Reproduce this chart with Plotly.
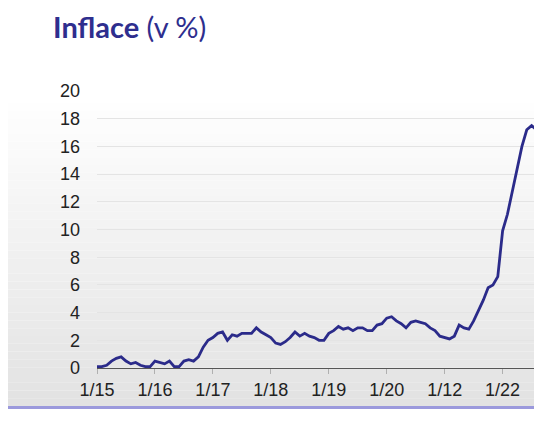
import plotly.graph_objects as go

# Monthly CPI y/y, Jan 2015 - Aug 2022
inflation = [
    0.1, 0.1, 0.2, 0.5, 0.7, 0.8, 0.5, 0.3, 0.4, 0.2, 0.1, 0.1,   # 2015
    0.5, 0.4, 0.3, 0.5, 0.1, 0.1, 0.5, 0.6, 0.5, 0.8, 1.5, 2.0,   # 2016
    2.2, 2.5, 2.6, 2.0, 2.4, 2.3, 2.5, 2.5, 2.5, 2.9, 2.6, 2.4,   # 2017
    2.2, 1.8, 1.7, 1.9, 2.2, 2.6, 2.3, 2.5, 2.3, 2.2, 2.0, 2.0,   # 2018
    2.5, 2.7, 3.0, 2.8, 2.9, 2.7, 2.9, 2.9, 2.7, 2.7, 3.1, 3.2,   # 2019
    3.6, 3.7, 3.4, 3.2, 2.9, 3.3, 3.4, 3.3, 3.2, 2.9, 2.7, 2.3,   # 2020
    2.2, 2.1, 2.3, 3.1, 2.9, 2.8, 3.4, 4.1, 4.9, 5.8, 6.0, 6.6,   # 2021
    9.9, 11.1, 12.7, 14.2, 16.0, 17.2, 17.5, 17.2,                # 2022
]
months = list(range(len(inflation)))
tick_positions = [0, 12, 24, 36, 48, 60, 72, 84]
tick_labels = ["1/15", "1/16", "1/17", "1/18", "1/19", "1/20", "1/12", "1/22"]
y_ticks = list(range(0, 21, 2))

W, H = 534, 424
L, R, T, B = 97, 0, 91, 56
plot_w = W - L - R
plot_h = H - T - B

def px_x(p):
    return (p - L) / plot_w

def px_y(p):
    return (H - B - p) / plot_h

fig = go.Figure()
fig.add_trace(go.Scatter(
    x=months, y=inflation, mode="lines",
    line=dict(color="#2b2b8a", width=2.8),
    hoverinfo="skip",
))

# gradient background panel
shapes = []
top_px, bot_px = 95, 406
n = 40
for i in range(n):
    y0 = top_px + (bot_px - top_px) * i / n
    y1 = top_px + (bot_px - top_px) * (i + 1) / n
    t = (i + 0.5) / n
    c = int(round(255 - (255 - 226) * t))
    shapes.append(dict(
        type="rect", xref="paper", yref="paper", layer="below",
        x0=px_x(8), x1=px_x(W + 2), y0=px_y(y1), y1=px_y(y0),
        fillcolor=f"rgb({c},{c},{c})", line=dict(width=0),
    ))
shapes.append(dict(
    type="rect", xref="paper", yref="paper", layer="below",
    x0=px_x(8), x1=px_x(W + 2), y0=px_y(409), y1=px_y(406),
    fillcolor="#9b99dc", line=dict(width=0),
))

fig.update_layout(
    width=W, height=H,
    margin=dict(l=L, r=R, t=T, b=B),
    paper_bgcolor="white",
    plot_bgcolor="rgba(0,0,0,0)",
    showlegend=False,
    shapes=shapes,
    title=dict(
        text="<b>Inflace</b> (v %)",
        font=dict(family="Lato, Open Sans, sans-serif", size=29, color="#2e2e8e"),
        xref="container", yref="container",
        x=53 / W, xanchor="left",
        y=1 - 28 / H, yanchor="middle",
    ),
    xaxis=dict(
        range=[0, 90.5],
        tickmode="array", tickvals=tick_positions, ticktext=tick_labels,
        showgrid=False, zeroline=False,
        showline=False,
        ticks="outside", ticklen=5, tickcolor="#b0b0b0", tickwidth=1,
        tickfont=dict(family="Liberation Sans, Arial, sans-serif", size=18, color="#222222"),
    ),
    yaxis=dict(
        range=[0, 20],
        tickmode="array", tickvals=y_ticks,
        showgrid=True, gridcolor="#e4e4e4", gridwidth=1,
        zeroline=True, zerolinecolor="#555555", zerolinewidth=1.2,
        showline=False,
        ticks="", ticklabelstandoff=16,
        tickfont=dict(family="Liberation Sans, Arial, sans-serif", size=18, color="#222222"),
    ),
)

fig.write_html(
    "out.html",
    config={"displayModeBar": False},
    post_script="document.body.style.margin='0';document.body.style.overflow='hidden';",
)
